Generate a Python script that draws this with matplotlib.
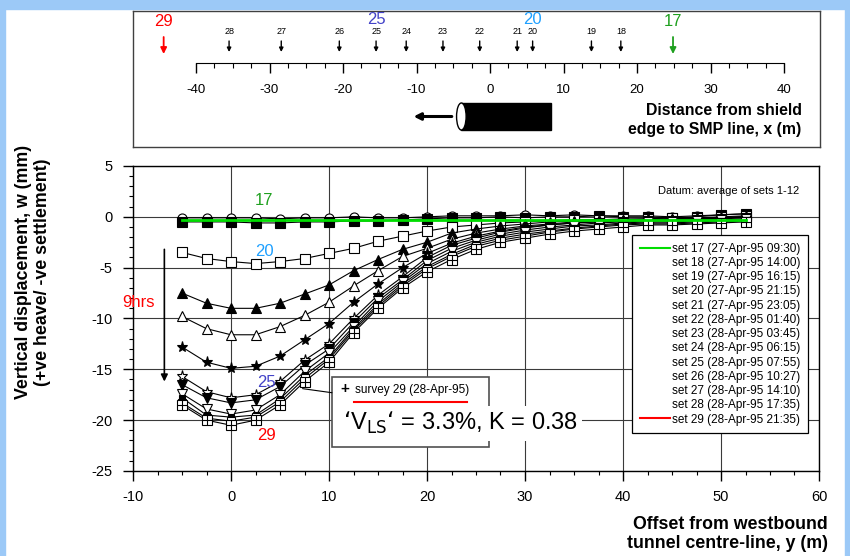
import matplotlib
matplotlib.use("Agg")
import matplotlib.pyplot as plt
from matplotlib.lines import Line2D
from matplotlib.patches import Rectangle, Ellipse
from matplotlib.ticker import MultipleLocator

plt.rcParams['font.family'] = ['Liberation Sans', 'DejaVu Sans']
plt.rcParams['axes.unicode_minus'] = False

# Data
# offset from westbound tunnel centre-line, y (m)
offset = [-5, -2.5, 0, 2.5, 5, 7.5, 10, 12.5, 15, 17.5, 20, 22.5,
          25, 27.5, 30, 32.5, 35, 37.5, 40, 42.5, 45, 47.5, 50, 52.5]

# vertical displacement w (mm) for each survey set
w17 = [-0.3, -0.3, -0.3, -0.3, -0.3, -0.3, -0.3, -0.3, -0.3, -0.3, -0.3, -0.3,
       -0.3, -0.3, -0.3, -0.3, -0.3, -0.3, -0.3, -0.3, -0.3, -0.3, -0.3, -0.3]
w18 = [-0.1, -0.1, -0.1, -0.1, -0.2, -0.1, -0.1, 0.0, -0.1, -0.1, 0.0, 0.1,
       0.1, 0.1, 0.2, 0.1, 0.2, 0.1, 0.1, 0.1, 0.0, 0.1, 0.2, 0.3]
w19 = [-0.5, -0.5, -0.5, -0.6, -0.6, -0.5, -0.5, -0.4, -0.4, -0.3, -0.2, -0.1,
       -0.1, 0.0, -0.1, 0.0, 0.0, 0.1, 0.0, 0.0, -0.1, 0.0, 0.2, 0.3]
w20 = [-3.5, -4.1, -4.4, -4.6, -4.4, -4.1, -3.6, -3.1, -2.4, -1.9, -1.4, -1.0,
       -0.8, -0.6, -0.5, -0.4, -0.3, -0.3, -0.2, -0.2, -0.1, -0.1, 0.0, 0.1]
w21 = [-7.5, -8.5, -9.0, -9.0, -8.5, -7.6, -6.7, -5.3, -4.2, -3.2, -2.5, -1.6,
       -1.2, -0.9, -0.7, -0.5, -0.4, -0.3, -0.3, -0.2, -0.2, -0.1, -0.1, 0.0]
w22 = [-9.8, -11.0, -11.6, -11.6, -10.8, -9.7, -8.4, -6.8, -5.3, -3.9, -3.1, -2.2,
       -1.6, -1.2, -0.9, -0.7, -0.5, -0.4, -0.3, -0.3, -0.2, -0.2, -0.1, 0.0]
w23 = [-12.8, -14.3, -14.9, -14.7, -13.7, -12.1, -10.5, -8.4, -6.6, -5.0, -3.6, -2.6,
       -1.9, -1.4, -1.0, -0.8, -0.6, -0.5, -0.4, -0.3, -0.3, -0.2, -0.1, 0.0]
w24 = [-15.7, -17.2, -17.8, -17.5, -16.2, -14.1, -12.5, -10.0, -7.7, -5.9, -4.0, -2.8,
       -2.1, -1.5, -1.1, -0.8, -0.6, -0.5, -0.4, -0.3, -0.3, -0.2, -0.1, 0.0]
w25 = [-16.5, -17.8, -18.3, -18.0, -16.7, -14.6, -13.0, -10.4, -8.0, -6.2, -4.3, -3.1,
       -2.3, -1.7, -1.3, -1.0, -0.8, -0.6, -0.5, -0.4, -0.4, -0.3, -0.2, -0.1]
w26 = [-17.4, -18.9, -19.4, -19.0, -17.5, -15.2, -13.4, -10.8, -8.3, -6.4, -4.6, -3.4,
       -2.5, -1.9, -1.5, -1.2, -0.9, -0.8, -0.6, -0.5, -0.5, -0.4, -0.3, -0.2]
w27 = [-17.8, -19.5, -19.7, -19.5, -17.9, -15.6, -13.8, -11.0, -8.6, -6.6, -4.9, -3.7,
       -2.7, -2.1, -1.7, -1.4, -1.1, -0.9, -0.7, -0.6, -0.6, -0.5, -0.4, -0.3]
w28 = [-18.3, -19.8, -20.1, -19.7, -18.2, -15.9, -14.0, -11.2, -8.8, -6.8, -5.1, -3.9,
       -2.9, -2.3, -1.9, -1.5, -1.2, -1.0, -0.8, -0.7, -0.7, -0.6, -0.5, -0.4]
w29 = [-18.5, -20.0, -20.5, -20.0, -18.5, -16.2, -14.3, -11.4, -9.0, -7.0, -5.4, -4.2,
       -3.2, -2.5, -2.1, -1.7, -1.4, -1.2, -1.0, -0.8, -0.8, -0.7, -0.6, -0.5]

set_labels = ['set 17 (27-Apr-95 09:30)', 'set 18 (27-Apr-95 14:00)',
              'set 19 (27-Apr-95 16:15)', 'set 20 (27-Apr-95 21:15)',
              'set 21 (27-Apr-95 23:05)', 'set 22 (28-Apr-95 01:40)',
              'set 23 (28-Apr-95 03:45)', 'set 24 (28-Apr-95 06:15)',
              'set 25 (28-Apr-95 07:55)', 'set 26 (28-Apr-95 10:27)',
              'set 27 (28-Apr-95 14:10)', 'set 28 (28-Apr-95 17:35)',
              'set 29 (28-Apr-95 21:35)']

# distance from shield edge to SMP line, x (m), at each survey
shield_sets = ['29', '28', '27', '26', '25', '24', '23', '22', '21', '20', '19', '18', '17']
shield_x = [-44.4, -35.5, -28.4, -20.5, -15.5, -11.4, -6.4, -1.4, 3.7, 5.8, 13.8, 17.8, 24.9]

RED = '#ff0000'
GREEN_TXT = '#1fa01f'
GREEN_LINE = '#00dd00'
PURPLE = '#4343c8'
SKY = '#1ea0ff'

W, H = 850, 556
fig = plt.figure(figsize=(W / 100, H / 100), dpi=100)

def frac(x0, y0, x1, y1):
    # pixel box -> figure fraction [left, bottom, width, height]
    return [x0 / W, 1 - y1 / H, (x1 - x0) / W, (y1 - y0) / H]

# light blue frame of the slide
for x0, y0, x1, y1 in [(0, 0, 5, H), (0, 0, W, 9), (845, 0, W, H)]:
    fig.patches.append(Rectangle((x0 / W, 1 - y1 / H), (x1 - x0) / W, (y1 - y0) / H,
                                 transform=fig.transFigure, color='#9cc9f7', zorder=0))

# ---------- top panel: shield position ----------
px_per_m = 7.35
ax_top = fig.add_axes(frac(133, 11, 820, 147))
ax_top.set_xlim(-40 - 63 / px_per_m, 40 + 36 / px_per_m)
ax_top.set_ylim(147, 11)
ax_top.set_xticks([])
ax_top.set_yticks([])
for s in ax_top.spines.values():
    s.set_color('#404040')
    s.set_linewidth(1)

big = {'29': RED, '17': GREEN_TXT}
for name, xs in zip(shield_sets, shield_x):
    if name in big:
        ax_top.text(xs, 22, name, color=big[name], fontsize=12, ha='center', va='center')
        ax_top.annotate('', xy=(xs, 54), xytext=(xs, 37),
                        arrowprops=dict(arrowstyle='-|>', color=big[name], lw=1.3,
                                        mutation_scale=9, shrinkA=0, shrinkB=0))
    else:
        ax_top.text(xs, 32, name, fontsize=6.5, ha='center', va='center')
        ax_top.annotate('', xy=(xs, 52), xytext=(xs, 41),
                        arrowprops=dict(arrowstyle='-|>', color='k', lw=1,
                                        mutation_scale=6, shrinkA=0, shrinkB=0))
ax_top.text(shield_x[shield_sets.index('25')], 20, '25', color=PURPLE, fontsize=12,
            ha='center', va='center')
ax_top.text(shield_x[shield_sets.index('20')], 20, '20', color=SKY, fontsize=12,
            ha='center', va='center')

# tunnel shield and direction of drive
ax_top.add_patch(Rectangle((-3.9, 103), 12.2, 27, facecolor='k', edgecolor='k'))
ax_top.add_patch(Ellipse((-3.9, 116.5), 1.3, 27, facecolor='white', edgecolor='k', lw=1))
ax_top.annotate('', xy=(-10.4, 116.5), xytext=(-5.2, 116.5),
                arrowprops=dict(arrowstyle='-|>', color='k', lw=2.2, mutation_scale=10,
                                shrinkA=0, shrinkB=0))
ax_top.text(42.4, 120, 'Distance from shield\nedge to SMP line, x (m)', fontsize=11.4,
            fontweight='bold', ha='right', va='center', linespacing=1.3)

# scale line
ax_sc = fig.add_axes(frac(196, 61.5, 784, 62.5))
ax_sc.set_xlim(-40, 40)
ax_sc.set_yticks([])
ax_sc.patch.set_alpha(0)
for k in ['top', 'left', 'right']:
    ax_sc.spines[k].set_visible(False)
ax_sc.xaxis.set_major_locator(MultipleLocator(10))
ax_sc.xaxis.set_minor_locator(MultipleLocator(2.5))
ax_sc.tick_params(axis='x', which='major', length=7.5, width=1, labelsize=9.5, pad=8)
ax_sc.tick_params(axis='x', which='minor', length=3.5, width=0.8)

# ---------- main plot ----------
ax = fig.add_axes(frac(133, 166, 819, 471))
ax.set_xlim(-10, 60)
ax.set_ylim(-25, 5)
ax.xaxis.set_major_locator(MultipleLocator(10))
ax.xaxis.set_minor_locator(MultipleLocator(2.5))
ax.yaxis.set_major_locator(MultipleLocator(5))
ax.yaxis.set_minor_locator(MultipleLocator(1))
ax.tick_params(which='major', length=7, width=1, labelsize=10.5)
ax.tick_params(axis='x', which='major', pad=7)
ax.tick_params(axis='y', which='major', pad=8)
ax.tick_params(which='minor', length=3, width=0.8)
ax.grid(True, which='major', color='#3a3a3a', lw=0.8)
ax.set_axisbelow(True)
for s in ax.spines.values():
    s.set_linewidth(1)

kw = dict(color='k', lw=0.8, mec='k', mew=0.8)
ax.plot(offset, w18, marker='o', mfc='white', ms=6.5, **kw)
ax.plot(offset, w19, marker='s', mfc='k', ms=6.5, **kw)
ax.plot(offset, w20, marker='s', mfc='white', ms=7, **kw)
ax.plot(offset, w21, marker='^', mfc='k', ms=6.5, **kw)
ax.plot(offset, w22, marker='^', mfc='white', ms=6.5, **kw)
ax.plot(offset, w23, marker='*', mfc='k', ms=8, **kw)
ax.plot(offset, w24, marker='*', mfc='white', ms=8, **kw)
ax.plot(offset, w25, marker='v', mfc='k', ms=6.5, **kw)
ax.plot(offset, w26, marker='v', mfc='white', ms=6.5, **kw)
ax.plot(offset, w27, marker='s', mfc='k', ms=5, **kw)
ax.plot(offset, w28, marker='s', mfc='white', ms=6, **kw)
ax.plot(offset, w29, marker='s', mfc='white', ms=6.5, **kw)
ax.plot(offset, w29, ls='none', marker='+', color='k', ms=6.5, mew=0.8)
ax.plot(offset, w17, color=GREEN_LINE, lw=2, zorder=5)

# legend: only sets 17 and 29 carry a line sample
handles = [Line2D([], [], color=GREEN_LINE, lw=1.5)]
handles += [Line2D([], [], color='none') for _ in range(11)]
handles += [Line2D([], [], color=RED, lw=1.5)]
leg = ax.legend(handles, set_labels, loc='upper left',
                bbox_to_anchor=((632 - 133) / 686, (471 - 235) / 305),
                fontsize=8.5, handlelength=2.6, handletextpad=0.1, labelspacing=0.19,
                frameon=True, fancybox=False, edgecolor='k', framealpha=1,
                borderpad=0.65, borderaxespad=0)
leg.get_frame().set_linewidth(0.9)
leg.set_zorder(10)

ax.text(58, 2.5, 'Datum: average of sets 1-12', fontsize=8, ha='right', va='center')

# set annotations
ax.text(3.4, 1.6, '17', color=GREEN_TXT, fontsize=12, ha='center', va='center')
ax.text(3.4, -3.4, '20', color=SKY, fontsize=12, ha='center', va='center')
ax.text(3.6, -16.3, '25', color=PURPLE, fontsize=12, ha='center', va='center')
ax.text(3.6, -21.5, '29', color=RED, fontsize=12, ha='center', va='center')

# 9 hour settlement arrow
ax.annotate('', xy=(-6.8, -16.2), xytext=(-6.8, -3.2),
            arrowprops=dict(arrowstyle='-|>', color='k', lw=1.2, mutation_scale=10,
                            shrinkA=0, shrinkB=0), annotation_clip=False)
ax.text(-11.1, -8.4, '9hrs', color=RED, fontsize=12, ha='left', va='center', clip_on=False)

# survey 29 call-out
ax.add_patch(Rectangle((10.3, -22.6), 16.0, 6.8, facecolor='white', edgecolor='#505050',
                       lw=1.2, zorder=6))
ax.annotate('', xy=(7.3, -16.9), xytext=(10.3, -17.3),
            arrowprops=dict(arrowstyle='-', color='k', lw=0.8, shrinkA=0, shrinkB=0),
            zorder=6)
ax.text(11.6, -16.95, '+', fontsize=11, fontweight='bold', ha='center', va='center', zorder=7)
ax.text(12.7, -17.0, 'survey 29 (28-Apr-95)', fontsize=8.5, ha='left', va='center', zorder=7)
ax.plot([12.5, 24.1], [-18.2, -18.2], color=RED, lw=1.5, zorder=7)
ax.text(11.4, -20.3, "\u2018V$_{\\mathrm{LS}}$\u2018 = 3.3%, K = 0.38", fontsize=17,
        ha='left', va='center', zorder=8,
        bbox=dict(facecolor='white', edgecolor='none', pad=3))

# axis titles
fig.text(33 / W, 1 - 272 / H, 'Vertical displacement, w (mm)\n(+ve heave/ -ve settlement)',
         rotation=90, fontsize=12.8, fontweight='bold', ha='center', va='center',
         linespacing=1.15)
fig.text(828 / W, 1 - 534 / H, 'Offset from westbound\ntunnel centre-line, y (m)',
         fontsize=12.8, fontweight='bold', ha='right', va='center', linespacing=1.2)

fig.savefig('out.png', dpi=100)
